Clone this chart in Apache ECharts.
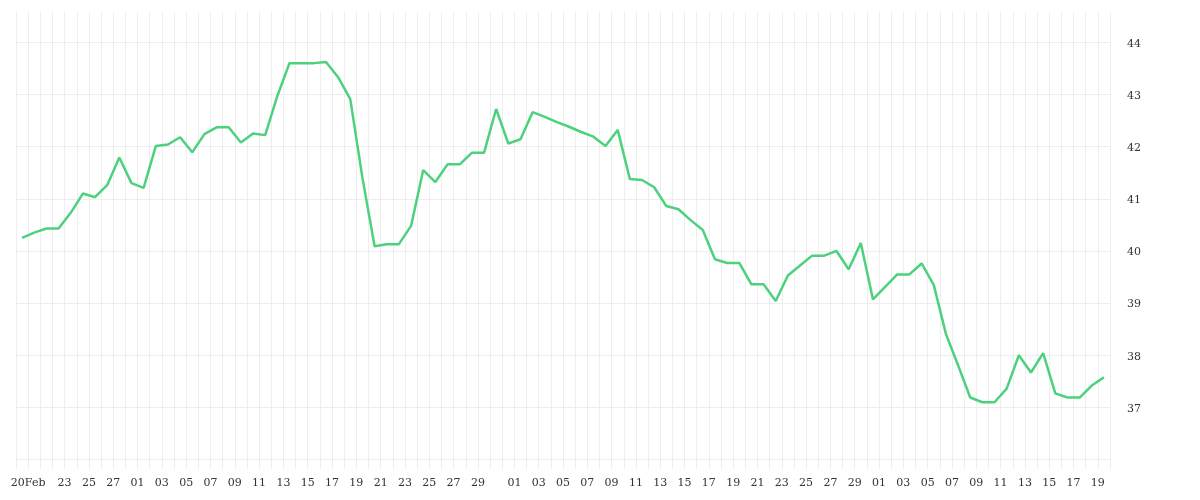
<!DOCTYPE html>
<html>
<head>
<meta charset="utf-8">
<script src="https://cdn.jsdelivr.net/npm/echarts@6/dist/echarts.min.js"></script>
<style>
html,body{margin:0;padding:0;background:#fff;}
#chart{width:1200px;height:500px;}
</style>
</head>
<body>
<div id="chart"></div>
<script>
// Daily values, one per day starting 2023-02-19
const startDay = '2023-02-19';
const values = [
  40.25, 40.35, 40.43, 40.43, 40.73, 41.10, 41.03, 41.26, 41.79, 41.30,
  41.21, 42.01, 42.04, 42.18, 41.89, 42.24, 42.37, 42.37, 42.08, 42.25,
  42.22, 42.97, 43.60, 43.60, 43.60, 43.62, 43.33, 42.91, 41.40, 40.09,
  40.13, 40.13, 40.48, 41.55, 41.32, 41.66, 41.66, 41.88, 41.88, 42.72,
  42.06, 42.14, 42.66, 42.57, 42.47, 42.38, 42.28, 42.19, 42.01, 42.32,
  41.38, 41.36, 41.22, 40.86, 40.80, 40.59, 40.40, 39.84, 39.77, 39.77,
  39.36, 39.36, 39.04, 39.53, 39.72, 39.91, 39.91, 40.00, 39.65, 40.15,
  39.07, 39.31, 39.55, 39.55, 39.76, 39.35, 38.41, 37.81, 37.19, 37.10,
  37.10, 37.36, 38.00, 37.67, 38.04, 37.27, 37.19, 37.19, 37.42, 37.58
];

// Labelled day boundaries on the x axis
const tickDates = [
  '2023-02-20','2023-02-23','2023-02-25','2023-02-27',
  '2023-03-01','2023-03-03','2023-03-05','2023-03-07','2023-03-09','2023-03-11','2023-03-13','2023-03-15',
  '2023-03-17','2023-03-19','2023-03-21','2023-03-23','2023-03-25','2023-03-27','2023-03-29',
  '2023-04-01','2023-04-03','2023-04-05','2023-04-07','2023-04-09','2023-04-11','2023-04-13','2023-04-15',
  '2023-04-17','2023-04-19','2023-04-21','2023-04-23','2023-04-25','2023-04-27','2023-04-29',
  '2023-05-01','2023-05-03','2023-05-05','2023-05-07','2023-05-09','2023-05-11','2023-05-13','2023-05-15',
  '2023-05-17','2023-05-19'
];
const tickLabels = [
  '20Feb','23','25','27',
  '01','03','05','07','09','11','13','15','17','19','21','23','25','27','29',
  '01','03','05','07','09','11','13','15','17','19','21','23','25','27','29',
  '01','03','05','07','09','11','13','15','17','19'
];
const yMin = 35.82, yMax = 44.58;

function fmt(d){
  const m = String(d.getUTCMonth()+1).padStart(2,'0');
  const dd = String(d.getUTCDate()).padStart(2,'0');
  return d.getUTCFullYear()+'-'+m+'-'+dd;
}
// day categories (bands) and day boundaries
const dayCats = [];
const boundaryCats = [];
const t0 = Date.parse(startDay + 'T00:00:00Z');
for (let i = 0; i <= values.length; i++) {
  const s = fmt(new Date(t0 + i*86400000));
  boundaryCats.push(s);
  if (i < values.length) dayCats.push(s);
}

const labelFont = {fontFamily:'DejaVu Serif', fontSize:11, color:'#333'};

const chart = echarts.init(document.getElementById('chart'));
chart.setOption({
  animation:false,
  backgroundColor:'#fff',
  grid:{left:16, right:90, top:12, bottom:31, containLabel:false},
  xAxis:[{
    type:'category',
    position:'bottom',
    data:boundaryCats,
    boundaryGap:false,
    axisLine:{show:false},
    axisTick:{show:false},
    axisLabel:Object.assign({
      margin:9,
      interval:function(idx, val){ return tickDates.indexOf(val) >= 0; },
      formatter:function(val){ const k = tickDates.indexOf(val); return k >= 0 ? tickLabels[k] : ''; }
    }, labelFont),
    splitLine:{show:true, interval:0, lineStyle:{color:'#eeeeee', width:1}}
  },{
    type:'category',
    position:'bottom',
    data:dayCats,
    boundaryGap:true,
    show:false
  }],
  yAxis:{
    type:'value',
    position:'right',
    min:yMin, max:yMax,
    splitNumber:8,
    axisLine:{show:false},
    axisTick:{show:false},
    axisLabel:Object.assign({
      margin:17,
      verticalAlign:'top',
      padding:[-4,0,0,0],
      showMinLabel:false, showMaxLabel:false,
      formatter:function(v){ return (v >= 36.5 && Math.abs(v-Math.round(v))<1e-6) ? String(Math.round(v)) : ''; }
    }, labelFont),
    splitLine:{show:true, showMinLine:false, showMaxLine:false, lineStyle:{color:'#eeeeee', width:1}}
  },
  series:[{
    type:'line',
    xAxisIndex:1,
    data:values,
    symbol:'none',
    lineStyle:{color:'#4cd17d', width:2.5},
    itemStyle:{color:'#4cd17d'}
  }]
});
</script>
</body>
</html>
